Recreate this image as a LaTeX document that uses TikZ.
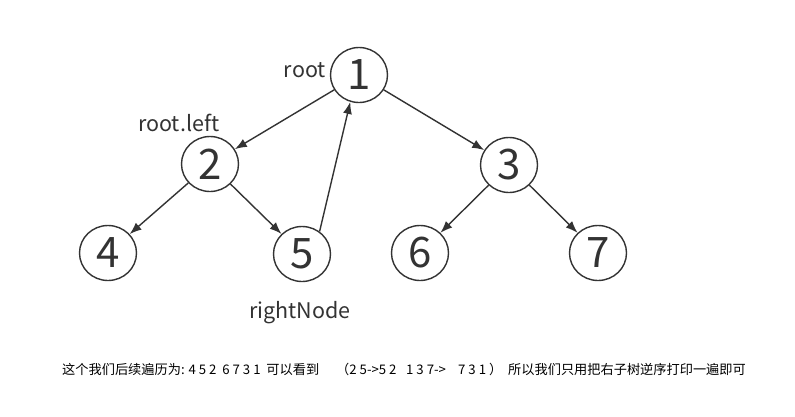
\documentclass[tikz,border=0pt]{standalone}
\usepackage{fontspec}
\setmainfont{Noto Sans CJK SC}
\usetikzlibrary{shapes,arrows,arrows.meta,positioning}
\definecolor{linegray}{RGB}{51,51,51}
\tikzset{
    % Tree node style
    treenode/.style={
        ellipse, draw=linegray, line width=1.4pt, fill=white,
        minimum width=57pt, minimum height=55pt, inner sep=0pt,
        font=\fontsize{42}{42}\selectfont, text=linegray
    },
    % Edge style
    treeedge/.style={
        draw=linegray, line width=1.4pt,
        -{Latex[length=12pt,width=9pt]}
    },
    % Label styles
    ptrlabel/.style={
        font=\fontsize{21.5}{21.5}\selectfont, text=linegray, inner sep=0pt
    },
    notetext/.style={
        font=\fontsize{13.2}{13.2}\selectfont, text=black, inner sep=0pt,
        anchor=base west
    }
}

\begin{document}
\begin{tikzpicture}[x=1pt,y=-1pt]
\useasboundingbox[fill=white] (0,0) rectangle (795,416);

% Tree nodes
\node[treenode] (n1) at (359,75) {1};
\node[treenode] (n2) at (210,164) {2};
\node[treenode] (n3) at (509,165) {3};
\node[treenode] (n4) at (108,253) {4};
\node[treenode] (n5) at (302,254) {5};
\node[treenode] (n6) at (420,253) {6};
\node[treenode] (n7) at (598,253) {7};

% Child edges
\draw[treeedge] (n1) -- (n2);
\draw[treeedge] (n1) -- (n3);
\draw[treeedge] (n2) -- (n4);
\draw[treeedge] (n2) -- (n5);
\draw[treeedge] (n3) -- (n6);
\draw[treeedge] (n3) -- (n7);

% Back edge from rightNode to root
\draw[treeedge] (n5.52) -- (n1.252);

% Pointer labels
\node[ptrlabel, anchor=base east] (lroot) at (326,77) {root};
\node[ptrlabel, anchor=base west] (lleft) at (138,131) {root.left};
\node[ptrlabel, anchor=base west] (lright) at (249,318) {rightNode};

% Explanation at the bottom
\node[notetext] (note1) at (62,374) {这个我们后续遍历为: 4 5 2\ \ 6 7 3 1\ \ 可以看到};
\node[notetext] (note2) at (336,374) {（2 5->5 2};
\node[notetext] (note3) at (406,374) {1 3 7->};
\node[notetext] (note4) at (458,374) {7 3 1 ）};
\node[notetext] (note5) at (508,374) {所以我们只用把右子树逆序打印一遍即可};

\end{tikzpicture}
\end{document}
